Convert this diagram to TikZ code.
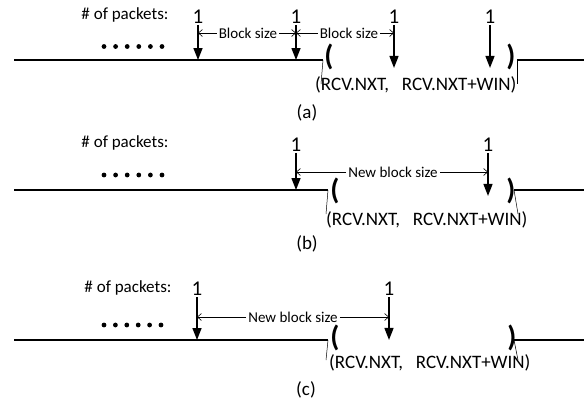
\documentclass[tikz,border=0pt]{standalone}
\usepackage{fontspec}
\setmainfont{Carlito}
\usetikzlibrary{arrows.meta}

\tikzset{
  pkt/.style={line width=1.4pt, -{Triangle[length=12pt,width=9pt]}},
  gap/.style={line width=0.6pt, -{Straight Barb[length=4pt,width=7pt]}},
  base/.style={line width=1.2pt},
  lead/.style={line width=0.5pt},
  one/.style={font=\fontsize{21}{21}\selectfont, inner sep=1pt},
  lbl/.style={font=\fontsize{17}{17}\selectfont, inner sep=1pt},
  sz/.style={font=\fontsize{15}{15}\selectfont, inner sep=2pt},
  win/.style={font=\fontsize{19}{19}\selectfont, inner sep=0pt},
  brk/.style={font=\fontsize{29}{29}\bfseries\selectfont, inner sep=0pt},
}

\begin{document}
\begin{tikzpicture}[x=1pt,y=-1pt]
  \useasboundingbox (0,0) rectangle (584,402);
  %% (a): packets one block size apart
  \node[lbl] (pa) at (125,15) {\# of packets:};
  \node[one] (a1) at (198,17) {1};
  \node[one] (a2) at (296,17) {1};
  \node[one] (a3) at (394,17) {1};
  \node[one] (a4) at (490,17) {1};
  \foreach \i in {0,...,5}
    \fill (104+11.6*\i,46.5) circle (2.4pt);
  \coordinate (la) at (14,60);  \coordinate (lb) at (323,60);
  \coordinate (ra) at (517,60); \coordinate (rb) at (584,60);
  \draw[base] (la) -- (lb);
  \draw[lead] (lb) -- ++(-2,24);
  \draw[base] (ra) -- (rb);
  \draw[lead] (ra) -- ++(0,24);
  \draw[pkt] (a1.south) -- (a1 |- la);
  \draw[pkt] (a2.south) -- (a2 |- la);
  \draw[pkt] (a3.south) -- ++(0,43);
  \draw[pkt] (a4.south) -- ++(0,43);
  \node[sz] (bs1) at (248,33) {Block size};
  \draw[gap] (bs1) -- (a1 |- bs1);
  \draw[gap] (bs1) -- (a2 |- bs1);
  \node[sz] (bs2) at (349,33) {Block size};
  \draw[gap] (bs2) -- (a2 |- bs2);
  \draw[gap] (bs2) -- (a3 |- bs2);
  \node[brk] (oa) at (329,57) {(};
  \node[brk] (ca) at (511,57) {)};
  \node[win, anchor=west] (wa) at (315,85) {(RCV.NXT,\hspace{0.45em} RCV.NXT+WIN)};
  \node[win] (ta) at (307,113) {(a)};

  %% (b): one new block size
  \node[lbl] (pb) at (125,143) {\# of packets:};
  \node[one] (b1) at (296,145) {1};
  \node[one] (b2) at (488,145) {1};
  \foreach \i in {0,...,5}
    \fill (104+11.6*\i,175) circle (2.4pt);
  \coordinate (lc) at (14,190);  \coordinate (ld) at (328,190);
  \coordinate (rc) at (514,190); \coordinate (rd) at (584,190);
  \draw[base] (lc) -- (ld);
  \draw[lead] (ld) -- ++(-2,24);
  \draw[base] (rc) -- (rd);
  \draw[lead] (rc) -- ++(4,24);
  \draw[pkt] (b1.south) -- (b1 |- lc);
  \draw[pkt] (b2.south) -- ++(0,43);
  \node[sz] (nb) at (393,172) {New block size};
  \draw[gap] (nb) -- (b1 |- nb);
  \draw[gap] (nb) -- (b2 |- nb);
  \node[brk] (ob) at (335,191) {(};
  \node[brk] (cb) at (511,191) {)};
  \node[win, anchor=west] (wb) at (326,220) {(RCV.NXT,\hspace{0.45em} RCV.NXT+WIN)};
  \node[win] (tb) at (307,244) {(b)};

  %% (c): new block size ends inside the window
  \node[lbl] (pc) at (128,288) {\# of packets:};
  \node[one] (c1) at (197,289) {1};
  \node[one] (c2) at (389,289) {1};
  \foreach \i in {0,...,5}
    \fill (104+11.4*\i,325) circle (2.4pt);
  \coordinate (le) at (14,340);  \coordinate (lf) at (328,340);
  \coordinate (re) at (514,340); \coordinate (rf) at (584,340);
  \draw[base] (le) -- (lf);
  \draw[lead] (lf) -- ++(-2,20);
  \draw[base] (re) -- (rf);
  \draw[lead] (re) -- ++(4,20);
  \draw[pkt] (c1.south) -- (c1 |- le);
  \draw[pkt] (c2.south) -- ++(0,43);
  \node[sz] (nc) at (293,317) {New block size};
  \draw[gap] (nc) -- (c1 |- nc);
  \draw[gap] (nc) -- (c2 |- nc);
  \node[brk] (oc) at (335,338) {(};
  \node[brk] (cc) at (512,338) {)};
  \node[win, anchor=west] (wc) at (329,363) {(RCV.NXT,\hspace{0.45em} RCV.NXT+WIN)};
  \node[win] (tc) at (306,390) {(c)};
\end{tikzpicture}
\end{document}
